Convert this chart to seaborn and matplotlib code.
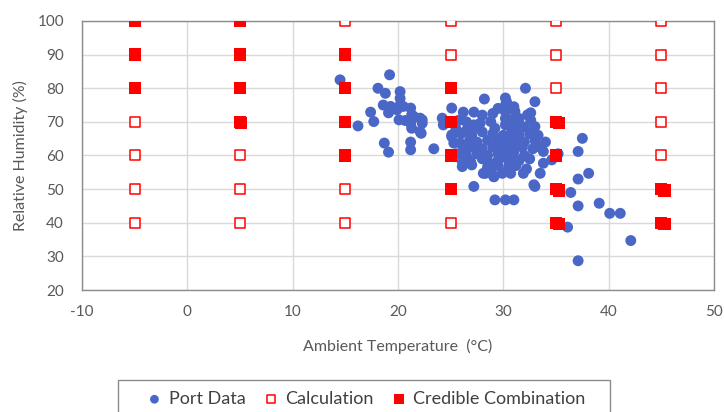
import matplotlib
matplotlib.use("Agg")
import matplotlib.pyplot as plt
from matplotlib.patches import Rectangle
import seaborn as sns
import pandas as pd

# ---------------- data ----------------
port_temp = [
    14.5, 19.2, 18.1, 18.8, 20.2, 20.2, 20.2, 17.4, 17.7, 16.2, 18.6, 19.3, 19.1, 19.9,
    20.1, 21.2, 21.3, 21.2, 21.3, 22.1, 22.3, 22.2, 18.7, 19.1, 21.2, 21.2, 23.4, 24.2,
    24.3, 20.5, 20.7, 21.5, 22.3, 22.1,
    25.1, 25.1, 25.3, 26.2, 27.2, 28.2, 25.9, 26.1, 27.0, 27.2, 27.8, 28.8, 28.3, 29.1,
    30.2, 30.2, 30.3, 30.2, 30.2, 30.2, 29.5, 31.0, 31.1, 32.3, 32.6, 28.0, 29.0, 32.1,
    33.0, 30.8, 31.5, 32.6, 25.8, 26.5, 27.2, 29.2, 31.0, 32.0, 33.0, 25.5, 26.5,
    26.0, 27.0, 28.0, 29.0, 30.0, 30.8, 31.5, 32.5, 33.3, 29.5, 25.1,
    26.8, 27.5, 28.5, 29.5, 30.5, 31.2, 32.0, 33.0, 34.0, 33.5,
    26.2, 27.0, 28.0, 29.0, 30.0, 30.8, 31.8, 32.8,
    25.5, 26.5, 27.5, 28.5, 29.5, 30.3, 31.0, 32.0, 33.8, 35.2,
    26.1, 26.9, 29.4, 28.0, 30.5, 31.5, 32.5, 34.6, 33.8,
    28.5, 29.5, 30.5, 31.2, 32.2, 26.1,
    28.1, 28.9, 29.9, 30.7, 31.9, 33.5, 29.1,
    27.2, 32.9, 33.0, 29.2, 30.2, 31.0,
    37.5, 37.1, 37.1, 38.1, 36.4, 37.1, 39.1, 40.1, 41.1, 36.1, 42.1, 37.1,
    30.7, 31.6, 29.8, 30.9, 31.4, 28.6,
]
port_rh = [
    82.5, 84.0, 80.0, 78.5, 79.0, 77.0, 75.0, 72.9, 70.1, 68.8, 75.0, 74.6, 72.7, 73.6,
    70.6, 74.1, 72.1, 69.6, 68.1, 71.1, 69.6, 66.6, 63.7, 61.0, 64.0, 61.7, 62.0, 71.1,
    69.1, 74.6, 70.4, 71.6, 70.6, 67.1,
    74.1, 65.6, 63.7, 72.9, 72.9, 76.8, 63.7, 59.7, 57.2, 69.1, 69.6, 70.1, 54.7, 53.7,
    77.1, 75.0, 76.0, 73.0, 71.0, 69.1, 74.0, 74.5, 73.1, 72.1, 72.7, 72.0, 72.5, 80.0,
    76.0, 70.5, 71.0, 70.5, 70.5, 70.0, 68.1, 68.1, 68.0, 68.5, 68.6, 68.0, 67.5,
    66.5, 66.0, 67.0, 66.5, 66.0, 67.0, 66.0, 66.5, 66.0, 65.0, 66.1,
    64.5, 64.0, 64.5, 64.0, 64.5, 65.0, 64.0, 64.5, 64.0, 62.5,
    62.0, 62.5, 62.0, 62.5, 62.5, 62.0, 62.5, 62.0,
    60.5, 60.0, 60.5, 60.0, 60.5, 60.0, 61.0, 60.0, 61.2, 60.5,
    58.2, 58.2, 58.2, 59.0, 58.5, 58.5, 59.0, 58.7, 57.7,
    56.5, 57.0, 56.5, 57.0, 56.0, 56.7,
    54.7, 54.7, 54.7, 54.7, 54.7, 54.7, 53.7,
    50.8, 51.3, 50.8, 46.8, 46.8, 46.8,
    65.1, 61.2, 53.0, 54.7, 49.0, 45.0, 45.8, 42.8, 42.8, 38.7, 34.7, 28.7,
    63.5, 63.0, 59.5, 59.0, 68.8, 57.8,
]

calc_temp = [t for t in [-5, 5, 15, 25, 35, 45] for _ in range(7)]
calc_rh = [rh for _ in range(6) for rh in [40, 50, 60, 70, 80, 90, 100]]

cred_temp = [-5, -5, -5, 5, 5, 5, 5, 5.1, 15, 15, 15, 15,
             25, 25, 25, 25, 35, 35.3, 35, 35, 35.3, 35, 35.3, 45, 45.3, 45, 45.3]
cred_rh = [100, 90, 80, 100, 90, 80, 70, 69.6, 90, 80, 70, 60,
           80, 70, 60, 50, 70, 69.6, 60, 50, 49.6, 40, 39.6, 50, 49.6, 40, 39.6]

x_ticks = [-10, 0, 10, 20, 30, 40, 50]
y_ticks = [20, 30, 40, 50, 60, 70, 80, 90, 100]

port = pd.DataFrame({"T": port_temp, "RH": port_rh})
calc = pd.DataFrame({"T": calc_temp, "RH": calc_rh})
cred = pd.DataFrame({"T": cred_temp, "RH": cred_rh})

# ---------------- plot ----------------
sns.set_style("white")
plt.rcParams["font.family"] = ["Lato", "DejaVu Sans"]
plt.rcParams["axes.unicode_minus"] = False

W, H = 724, 412
fig = plt.figure(figsize=(W / 100, H / 100), dpi=100)
ax = fig.add_axes([82 / W, 1 - 290 / H, 632 / W, 269 / H])

blue = "#4a67c8"
red = "#ff0000"

sns.scatterplot(data=port, x="T", y="RH", ax=ax, color=blue, s=62, marker="o",
                edgecolor="none", linewidth=0, label="Port Data", zorder=3)
sns.scatterplot(data=calc, x="T", y="RH", ax=ax, marker="s", s=52,
                facecolor="white", edgecolor=red, linewidth=1.1,
                label="Calculation", zorder=4)
sns.scatterplot(data=cred, x="T", y="RH", ax=ax, color=red, marker="s", s=78,
                edgecolor="none", linewidth=0, label="Credible Combination", zorder=5)

ax.set_xlim(-10, 50)
ax.set_ylim(20, 100)
ax.set_xticks(x_ticks)
ax.set_yticks(y_ticks)
ax.grid(True, color="#d9d9d9", linewidth=1)
ax.set_axisbelow(True)
for sp in ax.spines.values():
    sp.set_color("#8c8c8c")
    sp.set_linewidth(1)
ax.tick_params(axis="both", length=0, labelsize=11, colors="#595959")
ax.tick_params(axis="x", pad=11)
ax.tick_params(axis="y", pad=13)

ax.set_xlabel("Ambient Temperature  (°C)", fontsize=11.5, color="#595959", labelpad=14)
ax.set_ylabel("Relative Humidity (%)", fontsize=11.5, color="#595959", labelpad=7)

handles, labels = ax.get_legend_handles_labels()
ax.get_legend().remove()

# legend frame (cut off by the bottom edge as in the reference)
fig.patches.append(Rectangle((118 / W, -0.05), (610 - 118) / W, 0.05 + 1 - 380 / H,
                             transform=fig.transFigure, facecolor="white",
                             edgecolor="#8c8c8c", linewidth=1, zorder=0))
leg = fig.legend(handles, labels, ncol=3, loc="center",
                 bbox_to_anchor=(366 / W, 1 - 399 / H),
                 borderaxespad=0, borderpad=0,
                 frameon=False,
                 fontsize=13, handlelength=0.9, handletextpad=0.35,
                 columnspacing=0.95, markerscale=0.8)
for t in leg.get_texts():
    t.set_color("#404040")

fig.savefig("out.png", dpi=100)
